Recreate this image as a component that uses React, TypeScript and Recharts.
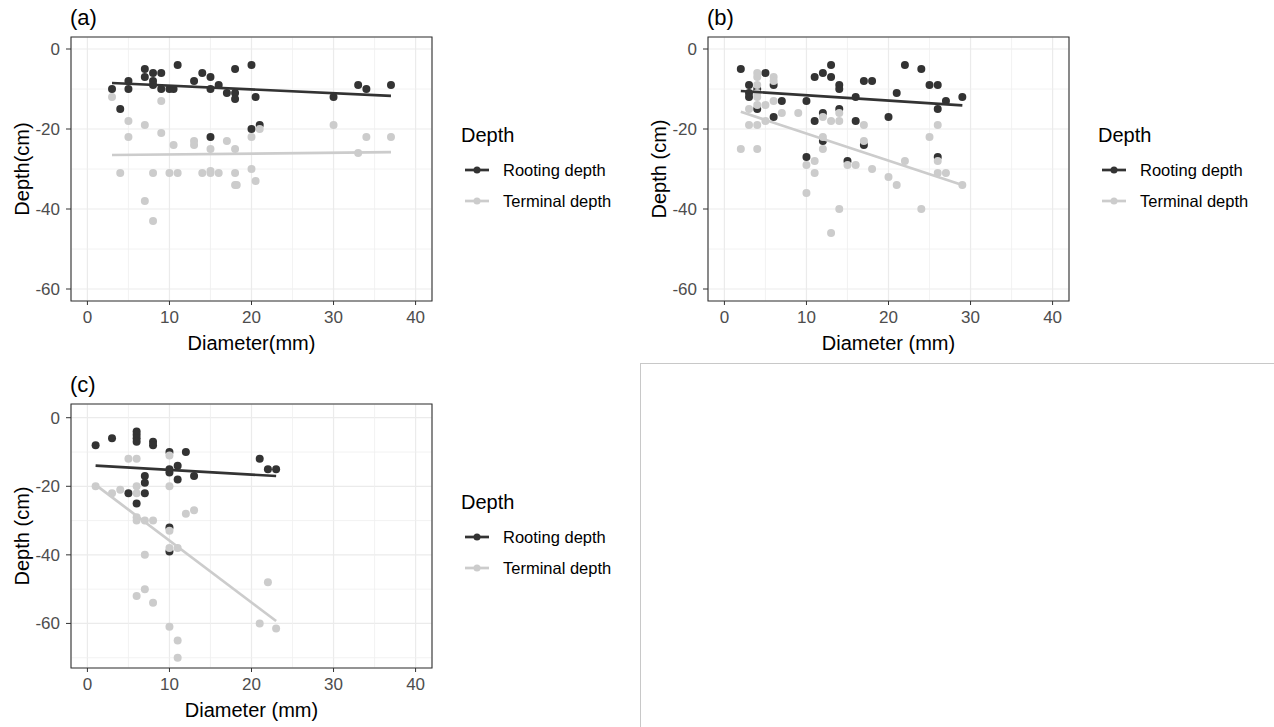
import React from 'react';
import {
	ScatterChart,
	Scatter,
	XAxis,
	YAxis,
	CartesianGrid,
	ReferenceArea,
} from 'recharts';

type Pt = { x: number; y: number };

// panel (a)
const rootingA: Pt[] = [
	{ x: 3, y: -10 }, { x: 4, y: -15 }, { x: 5, y: -8 }, { x: 5, y: -10 }, { x: 7, y: -5 },
	{ x: 7, y: -7 }, { x: 8, y: -6 }, { x: 8, y: -8 }, { x: 8, y: -9 }, { x: 9, y: -6 },
	{ x: 9, y: -10 }, { x: 10, y: -10 }, { x: 10.5, y: -10 }, { x: 11, y: -4 }, { x: 13, y: -8 },
	{ x: 14, y: -6 }, { x: 15, y: -7 }, { x: 15, y: -10 }, { x: 15, y: -22 }, { x: 16, y: -9 },
	{ x: 17, y: -11 }, { x: 18, y: -5 }, { x: 18, y: -11 }, { x: 18, y: -12.5 }, { x: 20, y: -4 },
	{ x: 20, y: -20 }, { x: 20.5, y: -12 }, { x: 21, y: -19 }, { x: 30, y: -12 }, { x: 33, y: -9 },
	{ x: 34, y: -10 }, { x: 37, y: -9 },
];
const terminalA: Pt[] = [
	{ x: 3, y: -12 }, { x: 4, y: -31 }, { x: 5, y: -18 }, { x: 5, y: -22 }, { x: 7, y: -19 },
	{ x: 7, y: -38 }, { x: 8, y: -31 }, { x: 8, y: -43 }, { x: 9, y: -13 }, { x: 9, y: -21 },
	{ x: 10, y: -31 }, { x: 10.5, y: -24 }, { x: 11, y: -31 }, { x: 13, y: -23 }, { x: 13, y: -24 },
	{ x: 14, y: -31 }, { x: 15, y: -25 }, { x: 15, y: -30.5 }, { x: 15, y: -31 }, { x: 16, y: -31 },
	{ x: 17, y: -23 }, { x: 18, y: -25 }, { x: 18, y: -31 }, { x: 18, y: -34 }, { x: 18.2, y: -34 },
	{ x: 20, y: -22 }, { x: 20, y: -30 }, { x: 20.5, y: -33 }, { x: 21, y: -20 }, { x: 30, y: -19 },
	{ x: 33, y: -26 }, { x: 34, y: -22 }, { x: 37, y: -22 },
];
const rootFitA: Pt[] = [{ x: 3, y: -8.5 }, { x: 37, y: -11.7 }];
const termFitA: Pt[] = [{ x: 3, y: -26.5 }, { x: 37, y: -25.8 }];

// panel (b)
const rootingB: Pt[] = [
	{ x: 2, y: -5 }, { x: 3, y: -9 }, { x: 3, y: -11 }, { x: 3, y: -12 }, { x: 4, y: -10 },
	{ x: 4, y: -15 }, { x: 5, y: -6 }, { x: 6, y: -9 }, { x: 6, y: -17 }, { x: 7, y: -13 },
	{ x: 10, y: -13 }, { x: 10, y: -27 }, { x: 11, y: -18 }, { x: 11, y: -7 }, { x: 12, y: -6 },
	{ x: 12, y: -16 }, { x: 12, y: -23 }, { x: 13, y: -4 }, { x: 13, y: -7 }, { x: 14, y: -9 },
	{ x: 14, y: -10 }, { x: 14, y: -15 }, { x: 15, y: -28 }, { x: 16, y: -12 }, { x: 16, y: -18 },
	{ x: 17, y: -8 }, { x: 18, y: -8 }, { x: 17, y: -24 }, { x: 20, y: -17 }, { x: 21, y: -11 },
	{ x: 22, y: -4 }, { x: 24, y: -5 }, { x: 25, y: -9 }, { x: 26, y: -9 }, { x: 26, y: -15 },
	{ x: 26, y: -27 }, { x: 27, y: -13 }, { x: 29, y: -12 },
];
const terminalB: Pt[] = [
	{ x: 2, y: -25 }, { x: 3, y: -15 }, { x: 3, y: -19 }, { x: 4, y: -6 }, { x: 4, y: -7 },
	{ x: 4, y: -9 }, { x: 4, y: -11 }, { x: 4, y: -12 }, { x: 4, y: -14 }, { x: 4, y: -19 },
	{ x: 4, y: -25 }, { x: 5, y: -14 }, { x: 5, y: -18 }, { x: 6, y: -7 }, { x: 6, y: -8 },
	{ x: 6, y: -13 }, { x: 7, y: -16 }, { x: 9, y: -16 }, { x: 10, y: -29 }, { x: 10, y: -36 },
	{ x: 11, y: -28 }, { x: 11, y: -31 }, { x: 12, y: -17 }, { x: 12, y: -22 }, { x: 12, y: -25 },
	{ x: 13, y: -18 }, { x: 13, y: -46 }, { x: 14, y: -16 }, { x: 14, y: -18 }, { x: 14, y: -40 },
	{ x: 15, y: -29 }, { x: 16, y: -29 }, { x: 17, y: -19 }, { x: 17, y: -23 }, { x: 18, y: -30 },
	{ x: 20, y: -32 }, { x: 21, y: -34 }, { x: 22, y: -28 }, { x: 24, y: -40 }, { x: 25, y: -22 },
	{ x: 26, y: -19 }, { x: 26, y: -28 }, { x: 26, y: -31 }, { x: 27, y: -31 }, { x: 29, y: -34 },
];
const rootFitB: Pt[] = [{ x: 2, y: -10.5 }, { x: 29, y: -14.1 }];
const termFitB: Pt[] = [{ x: 2, y: -15.7 }, { x: 29, y: -34 }];

// panel (c)
const rootingC: Pt[] = [
	{ x: 1, y: -8 }, { x: 3, y: -6 }, { x: 6, y: -4 }, { x: 6, y: -5 }, { x: 6, y: -6 },
	{ x: 6, y: -7 }, { x: 8, y: -7 }, { x: 8, y: -8 }, { x: 10, y: -10 }, { x: 12, y: -10 },
	{ x: 21, y: -12 }, { x: 22, y: -15 }, { x: 23, y: -15 }, { x: 11, y: -14 }, { x: 10, y: -15 },
	{ x: 10, y: -16 }, { x: 11, y: -18 }, { x: 13, y: -17 }, { x: 7, y: -17 }, { x: 7, y: -19 },
	{ x: 5, y: -22 }, { x: 7, y: -22 }, { x: 6, y: -25 }, { x: 10, y: -32 }, { x: 10, y: -39 },
];
const terminalC: Pt[] = [
	{ x: 5, y: -12 }, { x: 6, y: -12 }, { x: 10, y: -11 }, { x: 1, y: -20 }, { x: 3, y: -22 },
	{ x: 4, y: -21 }, { x: 6, y: -20 }, { x: 6, y: -22 }, { x: 10, y: -20 }, { x: 12, y: -28 },
	{ x: 13, y: -27 }, { x: 6, y: -29 }, { x: 6, y: -30 }, { x: 7, y: -30 }, { x: 8, y: -30 },
	{ x: 10, y: -33 }, { x: 10, y: -38 }, { x: 11, y: -38 }, { x: 7, y: -40 }, { x: 7, y: -50 },
	{ x: 6, y: -52 }, { x: 8, y: -54 }, { x: 22, y: -48 }, { x: 21, y: -60 }, { x: 23, y: -61.5 },
	{ x: 10, y: -61 }, { x: 11, y: -65 }, { x: 11, y: -70 },
];
const rootFitC: Pt[] = [{ x: 1, y: -14 }, { x: 23, y: -17 }];
const termFitC: Pt[] = [{ x: 1, y: -19.6 }, { x: 23, y: -59.3 }];

const xTicks = [0, 10, 20, 30, 40];
const xMinor = [5, 15, 25, 35];
const yTicks = [0, -20, -40, -60];
const yMinorAB = [-10, -30, -50];
const yMinorC = [-10, -30, -50, -70];
const seriesNames = ['Rooting depth', 'Terminal depth'];

const DARK = '#333333';
const LIGHT = '#CCCCCC';
const FONT = '"Liberation Sans", Arial, Helvetica, sans-serif';

const dot = (color: string) => (props: any) =>
	<circle cx={props.cx} cy={props.cy} r={4} fill={color} />;
const noDot = () => <g />;

const DepthLegend = ({ left, top }: { left: number; top: number }) => (
	<div style={{ position: 'absolute', left, top, fontFamily: FONT, color: '#000' }}>
		<div style={{ fontSize: 20, lineHeight: '20px', whiteSpace: 'nowrap' }}>Depth</div>
		{seriesNames.map((name, i) => {
			const c = i === 0 ? DARK : LIGHT;
			return (
				<div key={name} style={{ position: 'absolute', top: 35 + i * 31, left: 0, height: 20, whiteSpace: 'nowrap' }}>
					<svg width={32} height={20} style={{ position: 'absolute', left: 0, top: 0 }}>
						<line x1={4} x2={28} y1={10} y2={10} stroke={c} strokeWidth={2.7} />
						<circle cx={16} cy={10} r={3.5} fill={c} />
					</svg>
					<span style={{ position: 'absolute', left: 42, top: 0, fontSize: 16.5, lineHeight: '20px' }}>{name}</span>
				</div>
			);
		})}
	</div>
);

interface PanelProps {
	tag: string;
	left: number;
	top: number;
	xTitle: string;
	yTitle: string;
	rooting: Pt[];
	terminal: Pt[];
	rootFit: Pt[];
	termFit: Pt[];
	yDomain: [number, number];
	yMinor: number[];
}

const Panel = (p: PanelProps) => {
	const tickStyle = { fill: '#4D4D4D', fontSize: 17, fontFamily: FONT };
	const titleStyle = { fill: '#000', fontSize: 20, fontFamily: FONT };
	return (
		<div style={{ position: 'absolute', left: p.left, top: p.top, width: 640, height: 360 }}>
			<ScatterChart width={640} height={360} margin={{ top: 37, right: 208, bottom: 9, left: 0 }}>
				<CartesianGrid stroke='#EBEBEB' strokeWidth={1.2} />
				<CartesianGrid stroke='#EFEFEF' strokeWidth={0.8} horizontalValues={p.yMinor} verticalValues={xMinor} />
				<XAxis
					type='number'
					dataKey='x'
					domain={[-2, 42]}
					ticks={xTicks}
					allowDataOverflow
					axisLine={false}
					tickLine={{ stroke: DARK }}
					tickSize={4}
					tickMargin={6}
					tick={tickStyle}
					height={50}
					label={{ value: p.xTitle, position: 'center', dy: 17, style: titleStyle }}
				/>
				<YAxis
					type='number'
					dataKey='y'
					domain={p.yDomain}
					ticks={yTicks}
					allowDataOverflow
					axisLine={false}
					tickLine={{ stroke: DARK }}
					tickSize={5}
					tickMargin={6}
					tick={tickStyle}
					width={71}
					label={{ value: p.yTitle, angle: -90, position: 'center', dx: -14, style: { ...titleStyle, textAnchor: 'middle' } }}
				/>
				<Scatter name={seriesNames[0]} data={p.rooting} fill={DARK} shape={dot(DARK)} isAnimationActive={false} />
				<Scatter name={seriesNames[1]} data={p.terminal} fill={LIGHT} shape={dot(LIGHT)} isAnimationActive={false} />
				<Scatter data={p.rootFit} fill={DARK} line={{ stroke: DARK, strokeWidth: 2.7 }} shape={noDot} legendType='none' isAnimationActive={false} />
				<Scatter data={p.termFit} fill={LIGHT} line={{ stroke: LIGHT, strokeWidth: 2.7 }} shape={noDot} legendType='none' isAnimationActive={false} />
				<ReferenceArea x1={-2} x2={42} y1={p.yDomain[0]} y2={p.yDomain[1]} fill='none' stroke={DARK} strokeWidth={1.1} ifOverflow='visible' />
			</ScatterChart>
			<div style={{ position: 'absolute', left: 70, top: 7, fontSize: 22, lineHeight: '22px', fontFamily: FONT, color: '#000' }}>{p.tag}</div>
			<DepthLegend left={461} top={125} />
		</div>
	);
};

export default function App() {
	return (
		<div style={{ position: 'absolute', left: 0, top: 0, width: 1274, height: 727, background: '#fff', overflow: 'hidden' }}>
			<Panel tag='(a)' left={0} top={0} xTitle='Diameter(mm)' yTitle='Depth(cm)'
				rooting={rootingA} terminal={terminalA} rootFit={rootFitA} termFit={termFitA}
				yDomain={[-63, 3]} yMinor={yMinorAB} />
			<Panel tag='(b)' left={637} top={0} xTitle='Diameter (mm)' yTitle='Depth (cm)'
				rooting={rootingB} terminal={terminalB} rootFit={rootFitB} termFit={termFitB}
				yDomain={[-63, 3]} yMinor={yMinorAB} />
			<Panel tag='(c)' left={0} top={367} xTitle='Diameter (mm)' yTitle='Depth (cm)'
				rooting={rootingC} terminal={terminalC} rootFit={rootFitC} termFit={termFitC}
				yDomain={[-73, 4]} yMinor={yMinorC} />
			<div style={{ position: 'absolute', left: 640, top: 363, width: 634, height: 364, borderTop: '1px solid #C8C8C8', borderLeft: '1px solid #C8C8C8', boxSizing: 'border-box' }} />
		</div>
	);
}
